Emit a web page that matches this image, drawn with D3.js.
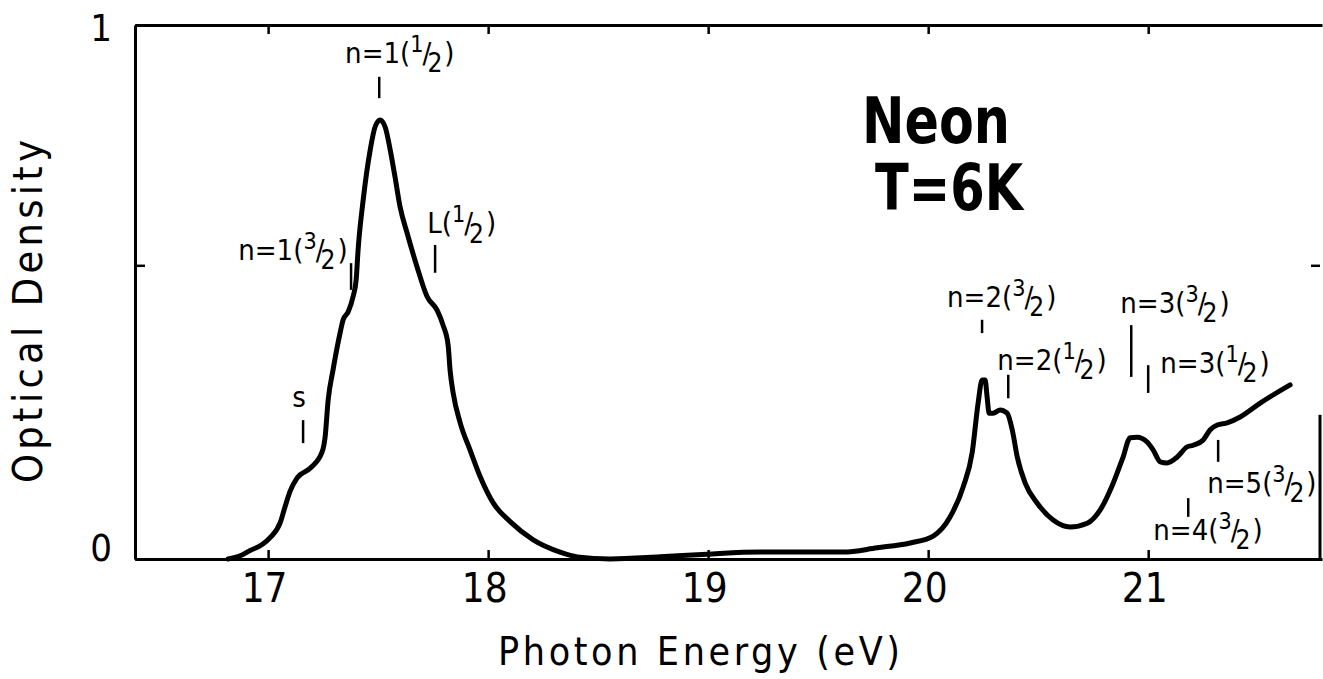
<!DOCTYPE html>
<html>
<head>
<meta charset="utf-8">
<script src="https://cdn.jsdelivr.net/npm/d3@7"></script>
<style>
  body { margin: 0; background: #fff; }
  text { font-family: "Liberation Sans Narrow", "DejaVu Sans Condensed", "Liberation Sans", sans-serif; fill: #000; }
</style>
</head>
<body>
<svg id="chart" width="1323" height="679"></svg>
<script>
// absorption spectrum of solid neon
var energy = [16.818, 16.873, 16.918, 16.973, 17.009, 17.055, 17.077, 17.100, 17.132, 17.191,
  17.245, 17.259, 17.273, 17.295, 17.327, 17.341, 17.364, 17.386, 17.400, 17.409,
  17.432, 17.464, 17.486, 17.509, 17.532, 17.555, 17.577, 17.600, 17.632, 17.677,
  17.723, 17.768, 17.795, 17.818, 17.827, 17.841, 17.873, 17.918, 17.964, 18.023,
  18.100, 18.205, 18.327, 18.405, 18.555, 18.782, 18.995, 19.236, 19.614, 19.768,
  19.918, 20.023, 20.100, 20.159, 20.200, 20.227, 20.245, 20.259, 20.268, 20.277,
  20.295, 20.327, 20.359, 20.382, 20.405, 20.441, 20.495, 20.568, 20.645, 20.723,
  20.782, 20.841, 20.886, 20.918, 20.950, 20.995, 21.023, 21.055, 21.086, 21.132,
  21.177, 21.205, 21.250, 21.282, 21.314, 21.359, 21.418, 21.509, 21.645];
var density = [0.000, 0.006, 0.016, 0.027, 0.040, 0.068, 0.098, 0.127, 0.152, 0.170,
  0.200, 0.228, 0.298, 0.354, 0.423, 0.448, 0.463, 0.491, 0.522, 0.579,
  0.672, 0.766, 0.809, 0.822, 0.809, 0.766, 0.715, 0.659, 0.610, 0.547,
  0.491, 0.466, 0.438, 0.401, 0.354, 0.311, 0.255, 0.204, 0.154, 0.105,
  0.070, 0.036, 0.013, 0.004, 0.000, 0.004, 0.009, 0.013, 0.013, 0.021,
  0.030, 0.043, 0.079, 0.135, 0.199, 0.292, 0.335, 0.335, 0.303, 0.273,
  0.273, 0.279, 0.273, 0.242, 0.191, 0.142, 0.105, 0.073, 0.060, 0.067,
  0.092, 0.142, 0.191, 0.227, 0.228, 0.219, 0.204, 0.182, 0.180, 0.191,
  0.210, 0.213, 0.223, 0.242, 0.251, 0.255, 0.266, 0.292, 0.326];

var xTicks = [17, 18, 19, 20, 21];
var yTicks = [0, 0.55, 1];
var yTickLabels = ["0", "", "1"];

// exciton assignments and where they are marked
var lineNames = ["s", "n=1(3/2)", "n=1(1/2)", "L(1/2)", "n=2(3/2)", "n=2(1/2)",
  "n=3(3/2)", "n=3(1/2)", "n=5(3/2)", "n=4(3/2)"];
var lineEnergy = [17.159, 17.377, 17.505, 17.759, 20.245, 20.364, 20.923, 21.0, 21.318, 21.182];

// marker bar extent and label anchor (data units)
var markLow  = [0.217, 0.504, 0.863, 0.536, 0.423, 0.301, 0.341, 0.311, 0.182, 0.079];
var markHigh = [0.260, 0.554, 0.903, 0.588, 0.448, 0.345, 0.438, 0.363, 0.223, 0.114];
var labelX = [17.141, 16.864, 17.350, 17.723, 20.086, 20.314, 20.873, 21.055, 21.268, 21.023];
var labelY = [0.285, 0.560, 0.929, 0.610, 0.472, 0.354, 0.461, 0.348, 0.124, 0.036];

var svg = d3.select('#chart');
var mLeft = 135, mRight = 1322, mTop = 25, mBottom = 559;

var x = d3.scaleLinear().domain([16.395, 21.79]).range([mLeft, mRight]);
var y = d3.scaleLinear().domain([0, 1]).range([mBottom, mTop]);

// axes, ticks pointing inwards
var gx = svg.append('g').attr('transform', 'translate(0,' + mBottom + ')')
  .call(d3.axisBottom(x).tickValues(xTicks).tickSizeInner(-9).tickSizeOuter(0)
    .tickPadding(15).tickFormat(d3.format('d')));
svg.append('g').attr('transform', 'translate(0,' + mTop + ')')
  .call(d3.axisTop(x).tickValues(xTicks).tickSizeInner(-9).tickSizeOuter(0).tickFormat(''));
var gy = svg.append('g').attr('transform', 'translate(' + mLeft + ',0)')
  .call(d3.axisLeft(y).tickValues(yTicks).tickSizeInner(-10).tickSizeOuter(0).tickPadding(23)
    .tickFormat(function(d, i) { return yTickLabels[i]; }));
var gr = svg.append('g').attr('transform', 'translate(' + (mRight - 2) + ',0)')
  .call(d3.axisRight(y).tickValues([0.55]).tickSizeInner(-9).tickSizeOuter(0).tickFormat(''));
gr.select('.domain').remove();
svg.append('line')
  .attr('x1', mRight - 2).attr('x2', mRight - 2)
  .attr('y1', y(0.27)).attr('y2', y(0))
  .attr('stroke', '#000').attr('stroke-width', 3);

svg.selectAll('.domain').attr('stroke-width', 3);
svg.selectAll('.tick line').attr('stroke-width', 2.5);
gx.selectAll('text').attr('font-size', 40).attr('dx', '-0.1em');
gy.selectAll('text').attr('font-size', 38)
  .attr('dy', function(d) { return d === 0 ? '0.05em' : '0.4em'; });

// spectrum
var pts = energy.map(function(e, i) { return [e, density[i]]; });
var line = d3.line()
  .x(function(d) { return x(d[0]); })
  .y(function(d) { return y(d[1]); })
  .curve(d3.curveMonotoneX);
svg.append('path').datum(pts)
  .attr('d', line)
  .attr('fill', 'none').attr('stroke', '#000')
  .attr('stroke-width', 5).attr('stroke-linejoin', 'round').attr('stroke-linecap', 'round');

// marker bars
svg.append('g').selectAll('line')
  .data(lineEnergy)
  .join('line')
  .attr('x1', function(d) { return x(d); }).attr('x2', function(d) { return x(d); })
  .attr('y1', function(d, i) { return y(markLow[i]); })
  .attr('y2', function(d, i) { return y(markHigh[i]); })
  .attr('stroke', '#000').attr('stroke-width', 2.5);

// labels with slanted fractions
var fs = 29;
var labels = svg.append('g').selectAll('text')
  .data(lineNames)
  .join('text')
  .attr('x', function(d, i) { return x(labelX[i]); })
  .attr('y', function(d, i) { return y(labelY[i]); })
  .attr('font-size', fs)
  .attr('text-anchor', function(d) { return d === 's' ? 'middle' : 'start'; });

labels.each(function(d) {
  var t = d3.select(this);
  var m = d.match(/^(.*\()(\d)\/(\d)(\))$/);
  if (!m) { t.text(d); return; }
  t.append('tspan').text(m[1]);
  t.append('tspan').attr('font-size', fs * 0.8).attr('dy', -fs * 0.38).text(m[2]);
  t.append('tspan').attr('dy', fs * 0.38).attr('dx', -1).text('/');
  t.append('tspan').attr('font-size', fs * 0.9).attr('dy', fs * 0.32).attr('dx', -4).text(m[3]);
  t.append('tspan').attr('dy', -fs * 0.32).attr('dx', 2).text(m[4]);
});

// sample and temperature
svg.append('text').attr('x', 862).attr('y', 143)
  .attr('font-size', 64).attr('font-weight', 'bold')
  .attr('textLength', 148).attr('lengthAdjust', 'spacingAndGlyphs').text('Neon');
svg.append('text').attr('x', 875).attr('y', 210)
  .attr('font-size', 64).attr('font-weight', 'bold')
  .attr('textLength', 148).attr('lengthAdjust', 'spacingAndGlyphs').text('T=6K');

// axis titles
svg.append('text').attr('x', 498).attr('y', 665)
  .attr('font-size', 39)
  .attr('textLength', 402).attr('lengthAdjust', 'spacing').text('Photon Energy (eV)');
svg.append('text')
  .attr('transform', 'translate(42,483) rotate(-90)')
  .attr('font-size', 41)
  .attr('textLength', 343).attr('lengthAdjust', 'spacing').text('Optical Density');
</script>
</body>
</html>
